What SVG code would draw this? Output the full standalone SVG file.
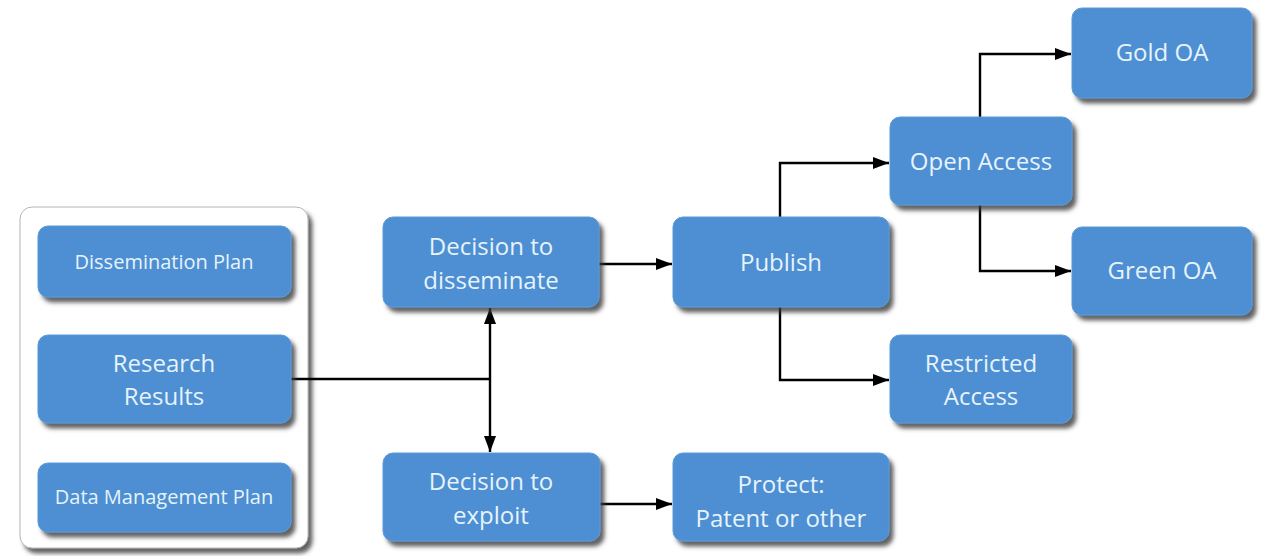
<svg xmlns="http://www.w3.org/2000/svg" width="1261" height="556" viewBox="0 0 1261 556">
<style>
.box{fill:#4d8fd2;stroke:#5a9ad8;stroke-width:1;filter:url(#sh)}
.t{font-family:"Open Sans","Liberation Sans",sans-serif;fill:#e6f3fb;text-anchor:middle;font-size:24px}
.s{font-size:20px}
.c{fill:none;stroke:#000;stroke-width:2.4}
.a{marker-end:url(#ah)}
</style>
<defs>
<filter id="sh" x="-10%" y="-10%" width="125%" height="135%">
<feDropShadow dx="4" dy="5" stdDeviation="2.2" flood-color="#3a3a3a" flood-opacity="0.8"/>
</filter>
<marker id="ah" markerUnits="userSpaceOnUse" markerWidth="16" markerHeight="12" refX="16" refY="6" orient="auto">
<path d="M0,0 L16,6 L0,12 z" fill="#000"/>
</marker>
</defs>
<rect width="1261" height="556" fill="#fff"/>
<g id="container">
<rect x="20" y="207" width="288" height="341" rx="12" fill="#fff" stroke="#b5b5b5" stroke-width="1" filter="url(#sh)"/>
</g>
<g id="connectors">
<path class="c" d="M290,379 H490"/>
<path class="c a" d="M490,379 V308"/>
<path class="c a" d="M490,379 V452"/>
<path class="c a" d="M599,264 H672"/>
<path class="c a" d="M780,217 V163 H889"/>
<path class="c a" d="M780,307 V380 H889"/>
<path class="c a" d="M980,117 V54 H1071"/>
<path class="c a" d="M980,205 V271 H1071"/>
<path class="c a" d="M600,504 H672"/>
</g>
<g id="dissemination-plan">
<rect class="box" x="38" y="226" width="253" height="71" rx="10"/>
<text class="t s" x="164" y="269">Dissemination Plan</text>
</g>
<g id="research-results">
<rect class="box" x="38" y="335" width="253" height="88" rx="10"/>
<text class="t" x="164" y="372">Research</text>
<text class="t" x="164" y="405">Results</text>
</g>
<g id="data-management-plan">
<rect class="box" x="38" y="463" width="253" height="69" rx="10"/>
<text class="t s" x="164" y="504">Data Management Plan</text>
</g>
<g id="decision-disseminate">
<rect class="box" x="383" y="217" width="216" height="90" rx="10"/>
<text class="t" x="491" y="255">Decision to</text>
<text class="t" x="491" y="289">disseminate</text>
</g>
<g id="decision-exploit">
<rect class="box" x="383" y="453" width="217" height="88" rx="10"/>
<text class="t" x="491" y="490">Decision to</text>
<text class="t" x="491" y="524">exploit</text>
</g>
<g id="publish">
<rect class="box" x="673" y="217" width="216" height="90" rx="10"/>
<text class="t" x="781" y="271">Publish</text>
</g>
<g id="protect">
<rect class="box" x="673" y="453" width="216" height="88" rx="10"/>
<text class="t" x="781" y="493">Protect:</text>
<text class="t" x="781" y="527">Patent or other</text>
</g>
<g id="open-access">
<rect class="box" x="890" y="117" width="182" height="88" rx="10"/>
<text class="t" x="981" y="170">Open Access</text>
</g>
<g id="restricted-access">
<rect class="box" x="890" y="335" width="182" height="88" rx="10"/>
<text class="t" x="981" y="372">Restricted</text>
<text class="t" x="981" y="405">Access</text>
</g>
<g id="gold-oa">
<rect class="box" x="1072" y="8" width="180" height="90" rx="10"/>
<text class="t" x="1162" y="61">Gold OA</text>
</g>
<g id="green-oa">
<rect class="box" x="1072" y="227" width="180" height="88" rx="10"/>
<text class="t" x="1162" y="279">Green OA</text>
</g>
</svg>
